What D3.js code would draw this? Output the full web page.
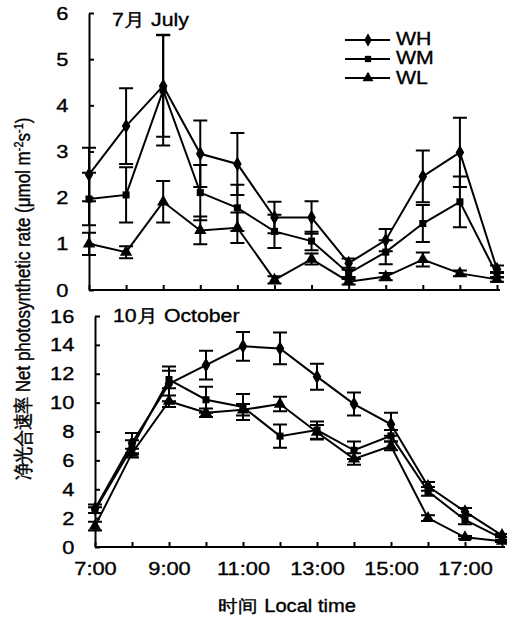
<!DOCTYPE html>
<html>
<head>
<meta charset="utf-8">
<script src="https://cdn.jsdelivr.net/npm/d3@7"></script>
<style>
body{margin:0;background:#fff;}
svg{font-family:"Liberation Sans",Arial,sans-serif;}
.axis path,.axis line{stroke:#000;stroke-width:2px;}
.axis text{font-size:19px;fill:#000;}
.heavy{stroke:#000;stroke-width:0.35px;}
</style>
</head>
<body>
<svg id="chart" width="507" height="618"></svg>
<script>
// hours of the day
var hours = [7,8,9,10,11,12,13,14,15,16,17,18];
var hourLabels = ['7:00','9:00','11:00','13:00','15:00','17:00'];
var seriesNames = ['WH','WM','WL'];

// July
var julyWH    = [2.50,3.55,4.42,2.95,2.73,1.57,1.57,0.58,1.08,2.46,2.98,0.45];
var julyWHerr = [0.58,0.82,1.10,0.72,0.67,0.34,0.35,0.10,0.24,0.56,0.75,0.08];
var julyWM    = [1.97,2.06,4.33,2.11,1.78,1.27,1.06,0.36,0.82,1.44,1.91,0.33];
var julyWMerr = [0.57,0.60,1.20,0.60,0.50,0.36,0.20,0.08,0.26,0.40,0.55,0.06];
var julyWL    = [1.00,0.82,1.91,1.29,1.35,0.22,0.67,0.18,0.29,0.66,0.36,0.23];
var julyWLerr = [0.24,0.13,0.45,0.30,0.33,0.08,0.12,0.06,0.08,0.15,0.06,0.05];

// October
var octWH    = [2.65,7.20,11.3,12.6,13.9,13.75,11.8,9.90,8.50,4.20,2.45,0.80];
var octWHerr = [0.30,0.70,1.20,1.00,1.00,1.10,0.90,0.80,0.80,0.30,0.25,0.10];
var octWM    = [2.55,6.90,11.6,10.2,9.70,7.68,8.10,6.70,7.70,3.85,1.87,0.60];
var octWMerr = [0.20,0.50,0.60,0.90,0.90,0.80,0.60,0.60,0.40,0.30,0.30,0.10];
var octWL    = [1.45,6.50,10.1,9.30,9.50,9.90,7.95,6.10,7.00,2.00,0.67,0.40];
var octWLerr = [0.30,0.30,0.40,0.30,0.40,0.50,0.50,0.40,0.30,0.20,0.10,0.05];

var svg = d3.select('#chart');
svg.append('rect').attr('width',507).attr('height',618).attr('fill','#fff');

var symbols = [d3.symbolDiamond, d3.symbolSquare, d3.symbolTriangle];
var symSize = [64, 50, 66];
var WIDE = 1.15; // the scanned figure's text is stretched sideways

// horizontal text, stretched a bit wider
function label(x,y,size,txt,anchor){
	return svg.append('text').attr('class','heavy')
		.attr('transform','translate('+x+','+y+') scale('+WIDE+',1)')
		.attr('text-anchor',anchor||'start').attr('font-size',size).text(txt);
}

function panel(cfg){
	var x = d3.scaleLinear().domain([7,18]).range(cfg.xr);
	var y = d3.scaleLinear().domain(cfg.yd).range(cfg.yr);
	var g = svg.append('g');

	var xa = d3.axisBottom(x).tickValues(hours).tickSizeInner(-5).tickSizeOuter(0).tickPadding(15)
		.tickFormat(function(d){ return cfg.labels && d%2==1 ? hourLabels[(d-7)/2] : ''; });
	var xg = g.append('g').attr('class','axis').attr('transform','translate(0,'+cfg.yr[0]+')').call(xa);
	xg.select('.domain').attr('d','M'+cfg.xr[0]+',0H'+(cfg.xr[1]+3));
	xg.selectAll('text').attr('class','heavy').attr('transform','scale('+WIDE+',1)');

	var ya = d3.axisLeft(y).ticks(cfg.yticks).tickSizeInner(-5).tickSizeOuter(0).tickPadding(18)
		.tickFormat(d3.format('d'));
	var yg = g.append('g').attr('class','axis').attr('transform','translate('+cfg.xr[0]+',0)').call(ya);
	yg.selectAll('text').attr('class','heavy').attr('transform','scale('+WIDE+',1)');

	label(cfg.titleX, cfg.titleY, 18.5, cfg.title);

	var line = d3.line().x(function(d,i){ return x(hours[i]); }).y(function(d){ return y(d); });

	cfg.series.forEach(function(s,k){
		var sg = g.append('g');
		// error bars
		s.v.forEach(function(v,i){
			var cx = x(hours[i]), e = s.e[i];
			sg.append('path')
				.attr('d','M'+cx+','+y(v-e)+'V'+y(v+e)+'M'+(cx-7)+','+y(v+e)+'H'+(cx+7)+'M'+(cx-7)+','+y(v-e)+'H'+(cx+7))
				.attr('stroke','#000').attr('stroke-width',2).attr('fill','none');
		});
		sg.append('path').datum(s.v).attr('d',line)
			.attr('fill','none').attr('stroke','#000').attr('stroke-width',2);
		sg.selectAll('.m').data(s.v).enter().append('path')
			.attr('transform',function(d,i){ return 'translate('+x(hours[i])+','+y(d)+')'; })
			.attr('d',d3.symbol().type(symbols[k]).size(symSize[k]))
			.attr('fill','#000');
	});
}

panel({xr:[89,497], yd:[0,6], yr:[290,13], yticks:6, labels:false,
	title:'7月 July', titleX:112, titleY:26,
	series:[{v:julyWH,e:julyWHerr},{v:julyWM,e:julyWMerr},{v:julyWL,e:julyWLerr}]});

panel({xr:[95,502], yd:[0,16], yr:[547,316], yticks:8, labels:true,
	title:'10月 October', titleX:113, titleY:322,
	series:[{v:octWH,e:octWHerr},{v:octWM,e:octWMerr},{v:octWL,e:octWLerr}]});

// legend
var leg = svg.append('g');
seriesNames.forEach(function(n,k){
	var ly = [40,59,78][k];
	leg.append('line').attr('x1',345).attr('x2',390).attr('y1',ly).attr('y2',ly)
		.attr('stroke','#000').attr('stroke-width',2);
	leg.append('path').attr('transform','translate(368,'+ly+')')
		.attr('d',d3.symbol().type(symbols[k]).size(symSize[k]*0.8)).attr('fill','#000');
	label(396, [45,64,84][k], 18.5, n);
});

// axis titles
label(287, 612, 17.5, '时间 Local time', 'middle');

var yt = svg.append('text').attr('class','heavy')
	.attr('transform','translate(30,299) rotate(-90) scale(1,'+WIDE+')')
	.attr('text-anchor','middle').attr('font-size',17);
yt.append('tspan').text('净光合速率 Net photosynthetic rate  (μmol m');
yt.append('tspan').attr('font-size',11).attr('dy',-6).text('-2');
yt.append('tspan').attr('dy',6).text('s');
yt.append('tspan').attr('font-size',11).attr('dy',-6).text('-1');
yt.append('tspan').attr('dy',6).text(')');
</script>
</body>
</html>
